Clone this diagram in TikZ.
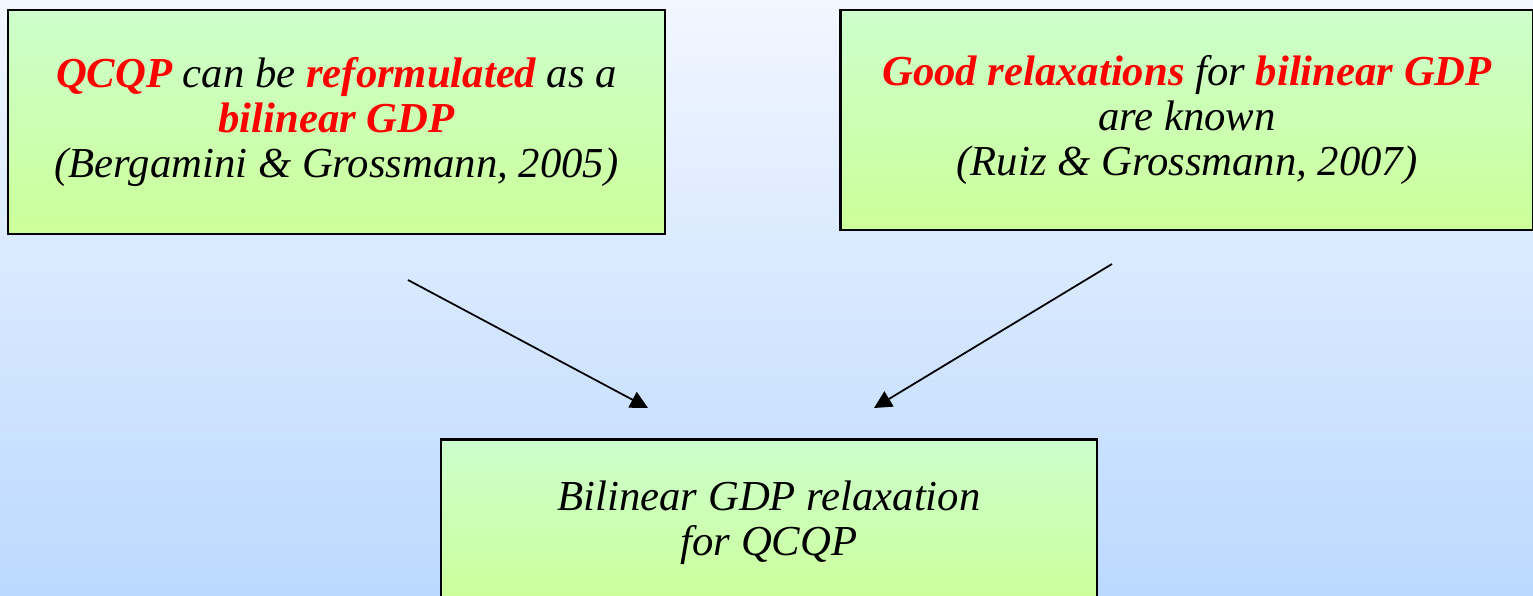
\documentclass[tikz,border=0pt]{standalone}
\usepackage{fontspec}
\setmainfont{Liberation Serif}
\usetikzlibrary{arrows.meta}
\definecolor{keyred}{RGB}{255,0,0}
\definecolor{bgtop}{RGB}{242,246,255}
\definecolor{bgbot}{RGB}{187,217,255}
\definecolor{boxtop}{RGB}{204,255,204}
\definecolor{boxbot}{RGB}{204,255,153}
\newcommand{\keyw}[1]{\textcolor{keyred}{\textbf{#1}}}
\begin{document}
\begin{tikzpicture}[x=0.02cm, y=-0.02cm,
    card/.style={draw, line width=1.3pt, rectangle, top color=boxtop, bottom color=boxbot, align=center, font=\fontsize{24.3}{25.8}\selectfont\itshape, inner sep=0pt},
    link/.style={-{Triangle[width=10pt, length=10pt]}, line width=1pt}]
          \clip (0,0) rectangle (1533,595);
          \shade[top color=bgtop, bottom color=bgbot] (0,0) rectangle (1533,595);
          \node[card, minimum width=13.14cm, minimum height=4.48cm] (reform) at (336.5, 122) {\keyw{QCQP} can be \keyw{reformulated} as a\\ \keyw{bilinear GDP}\\ (Bergamini \& Grossmann, 2005)};
          \node[card, minimum width=13.86cm, minimum height=4.40cm] (known) at (1187, 120) {\keyw{Good relaxations} for \keyw{bilinear GDP}\\ are known\\ (Ruiz \& Grossmann, 2007)};
          \node[card, minimum width=13.12cm, minimum height=3.34cm] (result) at (769, 523) {Bilinear GDP relaxation\\ for QCQP};
          % arrow ends float between the boxes
          \coordinate (startL) at (408, 280);
          \coordinate (endL) at (648, 408);
          \coordinate (startR) at (1112, 264);
          \coordinate (endR) at (874, 408);
          \draw[link] (startL) -- (endL);
          \draw[link] (startR) -- (endR);
        \end{tikzpicture}
\end{document}
